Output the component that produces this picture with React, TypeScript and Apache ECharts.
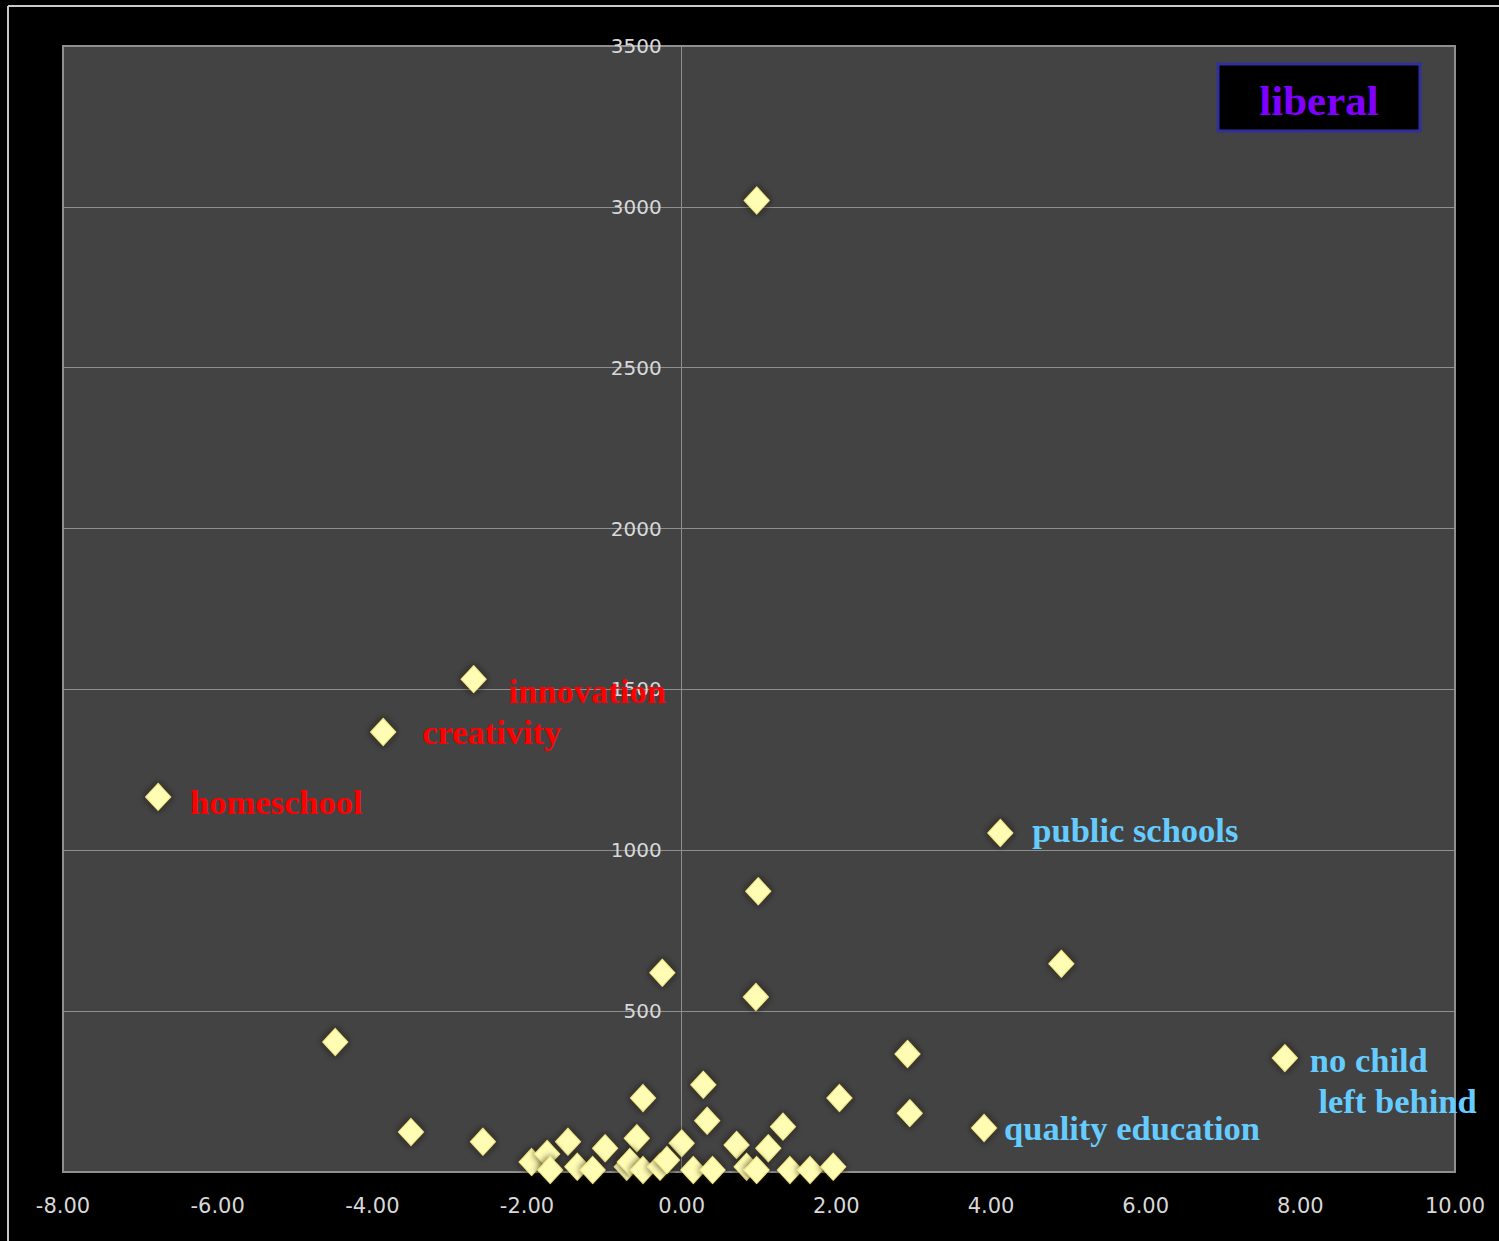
import React, { useEffect, useRef } from "react";
import * as echarts from "echarts";

// ---- data ----
const xTicksMin = -8;
const xTicksMax = 10;
const yTicksMin = 0;
const yTicksMax = 3500;

const pointsX = [
  0.97, 0.99, -0.25, 4.91, 0.96, -4.48, 2.92, 0.28, -0.5, 2.04, 2.95, 0.33, -3.5, 1.31,
  -2.57, -0.58, 0.0, -0.99, -1.47, 0.71, 1.12,
  -1.94, -1.74, -1.7, -1.35, -1.15, -0.71, -0.67, -0.5, -0.28, -0.19, 0.15, 0.4, 0.84, 0.97,
  1.4, 1.66, 1.96,
];
const pointsY = [
  3020, 873, 619, 647, 544, 404, 367, 271, 230, 230, 183, 159, 124, 141,
  94, 105, 89, 74, 94, 84, 74,
  31, 56, 6, 16, 6, 16, 31, 6, 16, 37, 6, 6, 16, 6,
  6, 6, 16,
];

const labelNames = [
  "innovation",
  "creativity",
  "homeschool",
  "public schools",
  "quality education",
  "no child\n left behind",
];
const labelledX = [-2.69, -3.86, -6.77, 4.12, 3.91, 7.8];
const labelledY = [1532, 1368, 1166, 1054, 137, 354];

const legendText = "liberal";

// ---- styles ----
const RED = "#ff0000";
const BLUE = "#66ccff";
const labelStyle = [
  { color: RED, dx: 22, dy: 12 },
  { color: RED, dx: 26, dy: 0 },
  { color: RED, dx: 19, dy: 5 },
  { color: BLUE, dx: 19, dy: -3 },
  { color: BLUE, dx: 7, dy: 0 },
  { color: BLUE, dx: 12, dy: 22 },
];

const SYMBOL = [25, 27];
const markerStyle = {
  color: "#fffcb4",
  borderColor: "#f4ec8a",
  borderWidth: 1,
  shadowBlur: 7,
  shadowColor: "rgba(30,25,0,0.9)",
  opacity: 1,
};

const GRID_LEFT = 63;
const GRID_RIGHT = 44;
const PLOT_W = 1499 - GRID_LEFT - GRID_RIGHT;

export default function App() {
  const ref = useRef<HTMLDivElement>(null);

  useEffect(() => {
    if (!ref.current) return;
    const chart = echarts.init(ref.current, undefined, { renderer: "svg" });

    const plain = pointsX.map((x, i) => [x, pointsY[i]]);
    const labelled = labelledX.map((x, i) => ({
      value: [x, labelledY[i]],
      name: labelNames[i],
      label: {
        show: true,
        position: "right",
        distance: 0,
        offset: [labelStyle[i].dx, labelStyle[i].dy],
        formatter: labelNames[i],
        color: labelStyle[i].color,
        opacity: 1,
        fontFamily: "'Liberation Serif', 'Times New Roman', serif",
        fontWeight: "bold",
        fontSize: 34.5,
        lineHeight: 41,
        align: "left",
      },
    }));

    // y axis sits on x = 0: offset from the left grid edge
    const zeroOffset = -((0 - xTicksMin) / (xTicksMax - xTicksMin)) * PLOT_W;

    chart.setOption({
      animation: false,
      backgroundColor: "#000000",
      grid: {
        left: GRID_LEFT,
        right: GRID_RIGHT,
        top: 46,
        bottom: 69,
        outerBoundsMode: "none",
        containLabel: false,
        show: true,
        backgroundColor: "#434343",
        borderColor: "#8f8f8f",
        borderWidth: 2,
      },
      xAxis: {
        type: "value",
        min: xTicksMin,
        max: xTicksMax,
        interval: 2,
        axisLine: { show: false },
        axisTick: { show: false },
        splitLine: { show: false },
        axisLabel: {
          color: "#d8d8d8",
          fontFamily: "DejaVu Sans",
          fontSize: 21,
          margin: 23,
          formatter: (v: number) => v.toFixed(2),
        },
      },
      yAxis: {
        type: "value",
        min: yTicksMin,
        max: yTicksMax,
        interval: 500,
        position: "left",
        offset: zeroOffset,
        axisLine: { show: true, onZero: false, lineStyle: { color: "#8f8f8f", width: 1 } },
        axisTick: { show: false },
        splitLine: { show: true, lineStyle: { color: "#8f8f8f", width: 1 } },
        axisLabel: {
          color: "#d8d8d8",
          fontFamily: "DejaVu Sans",
          fontSize: 20,
          margin: 20,
          showMinLabel: false,
          formatter: (v: number) => String(v),
        },
      },
      series: [
        {
          type: "scatter",
          symbol: "diamond",
          symbolSize: SYMBOL,
          itemStyle: markerStyle,
          data: plain,
          z: 3,
        },
        {
          type: "scatter",
          symbol: "diamond",
          symbolSize: SYMBOL,
          itemStyle: markerStyle,
          data: labelled,
          z: 4,
        },
      ],
      graphic: [
        {
          type: "line",
          shape: { x1: 8, y1: 6, x2: 1499, y2: 6 },
          style: { stroke: "#c8c8c8", lineWidth: 2 },
        },
        {
          type: "line",
          shape: { x1: 8, y1: 6, x2: 8, y2: 1241 },
          style: { stroke: "#c8c8c8", lineWidth: 2 },
        },
        {
          type: "rect",
          shape: { x: 1218, y: 64, width: 202, height: 67 },
          style: { fill: "#000000", stroke: "#30309c", lineWidth: 3 },
          z: 10,
        },
        {
          type: "text",
          x: 1319,
          y: 100,
          style: {
            text: legendText,
            fill: "#8000ff",
            font: "bold 43px 'Liberation Serif', 'Times New Roman', serif",
            align: "center",
            verticalAlign: "middle",
          },
          z: 11,
        },
      ],
    });

    return () => chart.dispose();
  }, []);

  return (
    <div
      ref={ref}
      style={{ position: "fixed", left: 0, top: 0, width: 1499, height: 1241, background: "#000" }}
    />
  );
}
